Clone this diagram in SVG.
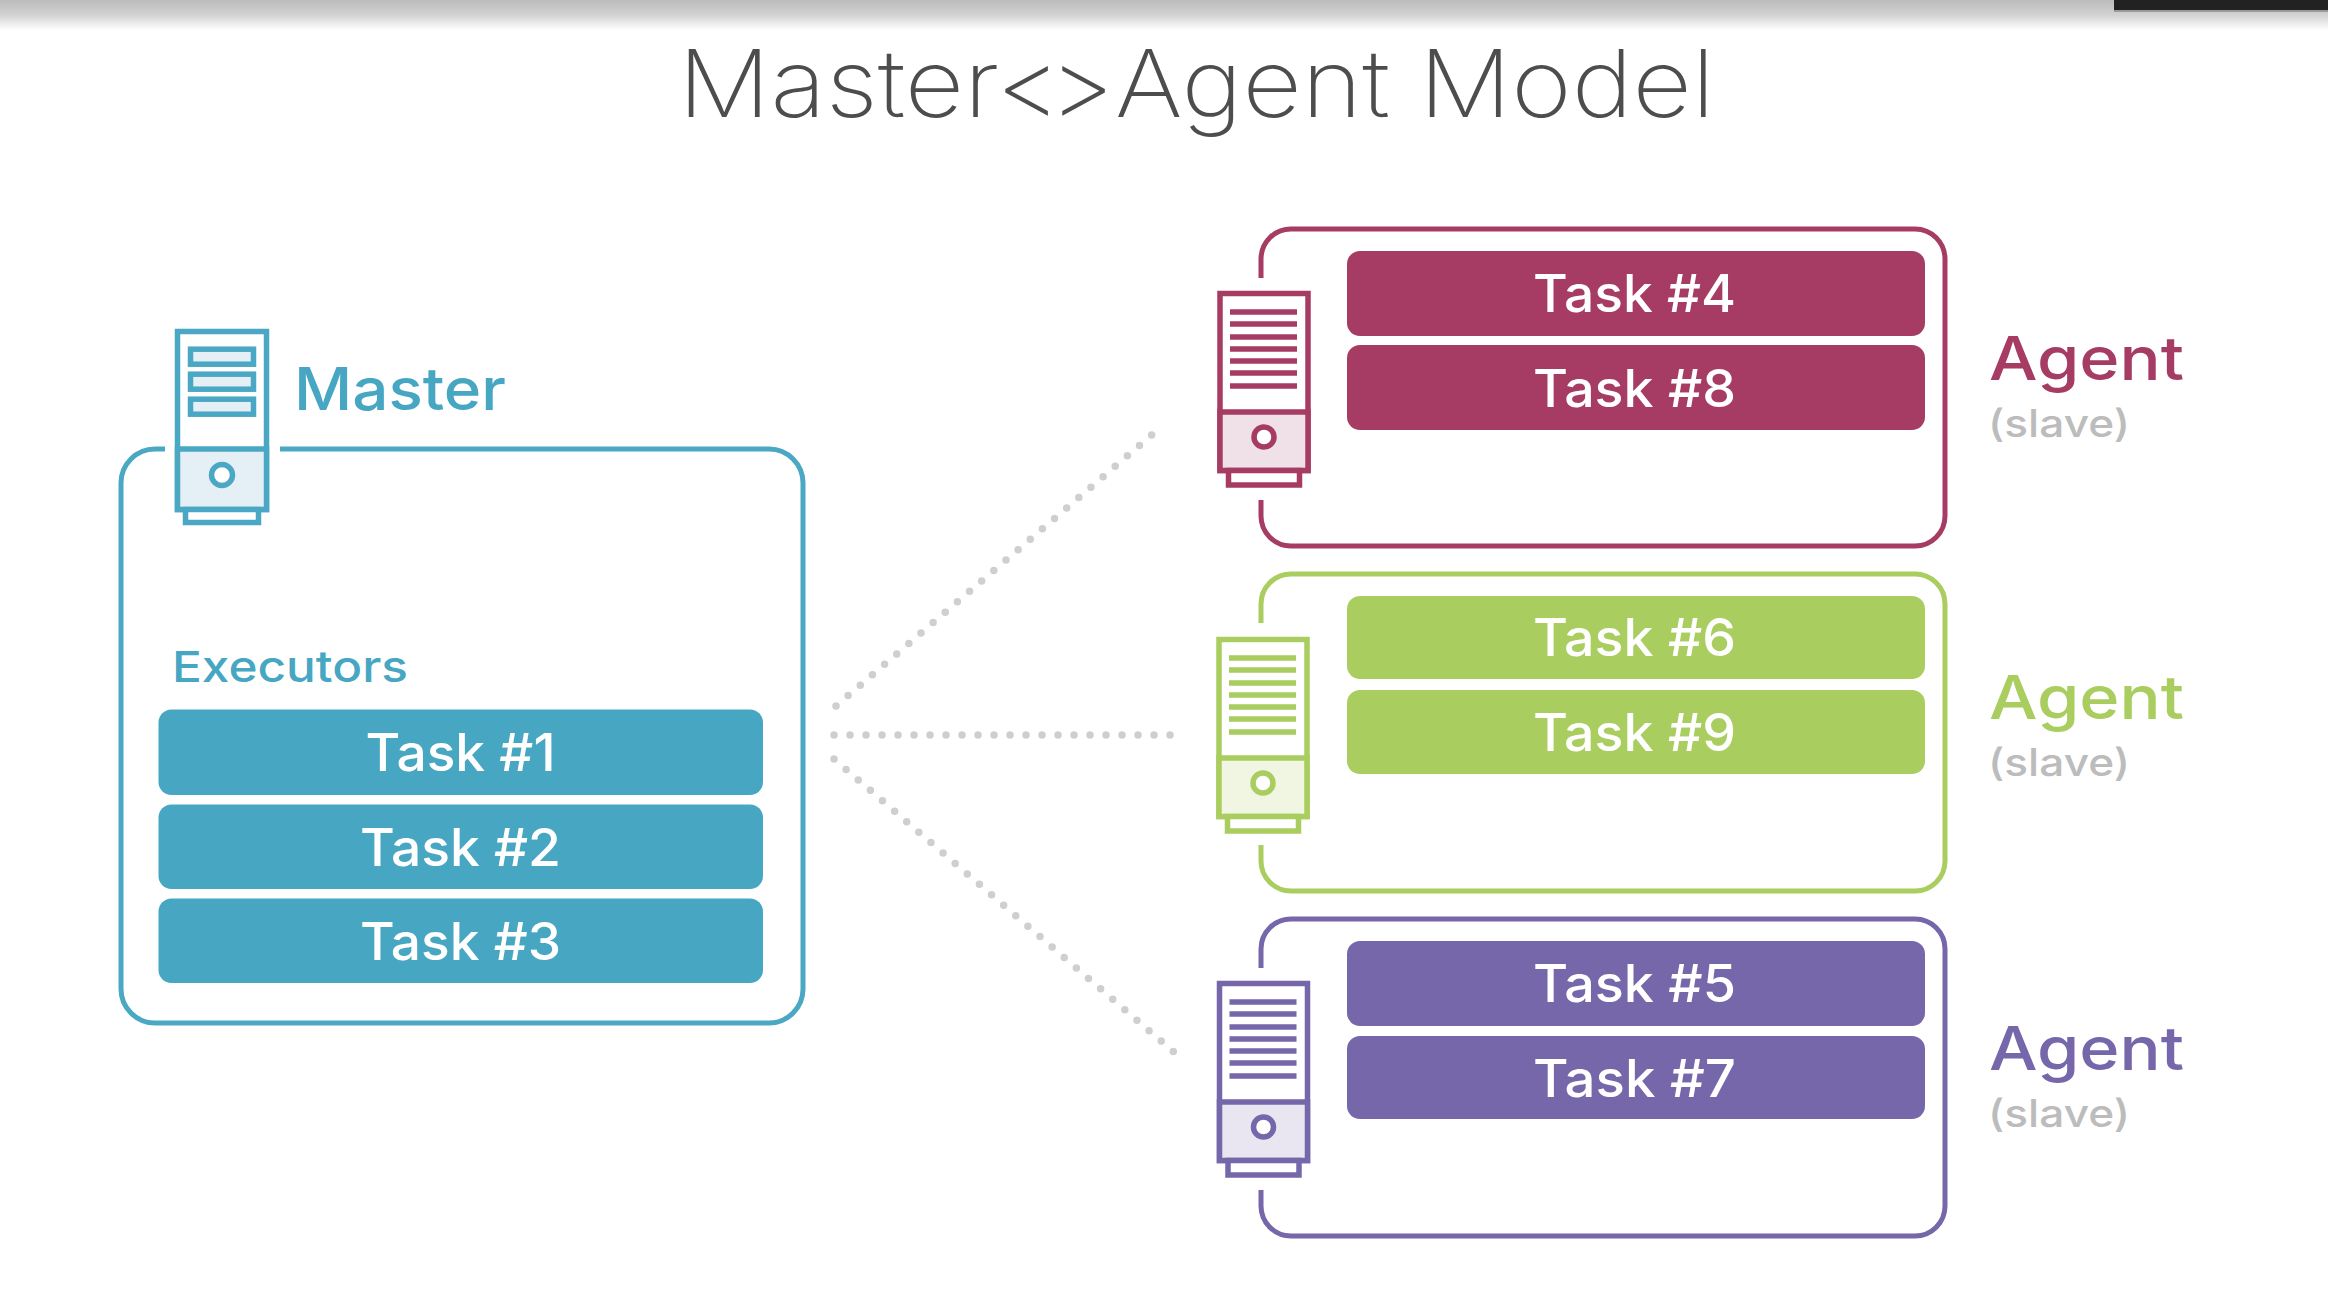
<svg xmlns="http://www.w3.org/2000/svg" xmlns:xlink="http://www.w3.org/1999/xlink" width="2328" height="1290" viewBox="0 0 2328 1290">
<defs>
<linearGradient id="topShade" x1="0" y1="0" x2="0" y2="1"><stop offset="0" stop-color="#bcbcbc"/><stop offset="0.5" stop-color="#d2d2d2"/><stop offset="1" stop-color="#ffffff"/></linearGradient>
<g id="agentServer" stroke-width="5.5">
<rect x="1220" y="293.5" width="88" height="177" fill="#fff" stroke="currentColor"/>
<rect x="1220" y="412" width="88" height="58.5" fill="var(--tint)" stroke="currentColor"/>
<rect x="1228.5" y="470.5" width="71" height="14.5" fill="#fff" stroke="currentColor"/>
<circle cx="1264" cy="437" r="10" fill="#fff" stroke="currentColor"/>
<path d="M1230 312H1297M1230 324H1297M1230 337H1297M1230 349H1297M1230 361H1297M1230 373H1297M1230 386H1297" fill="none" stroke="currentColor"/>
</g>
</defs>
<style>
text{font-family:"Inter","Open Sans","Liberation Sans",sans-serif}
.frame{fill:none;stroke-width:5}
.task{font-size:52px;font-weight:500;fill:#fff;text-anchor:middle}
.agent{font-size:60px;font-weight:550}
.slave{font-size:38px;font-weight:500;fill:#bcbcbc}
.dots{fill:none;stroke:#cfcfcf;stroke-width:7.5;stroke-linecap:round;stroke-dasharray:0 16}
.blue{color:#4aa8c4;fill:#47a7c3;--tint:#e4f0f6}
.red{color:#a63c63;fill:#a63c63;--tint:#f0e1e8}
.green{color:#a9cd5f;fill:#a9cd5f;--tint:#f0f6e1}
.purple{color:#7567a9;fill:#7567a9;--tint:#e9e6f2}
</style>
<rect width="2328" height="1290" fill="#fff"/>
<rect id="top-shade" width="2328" height="30" fill="url(#topShade)"/>
<rect id="top-corner" x="2114" y="0" width="214" height="10" fill="#222"/>
<rect id="top-corner-edge" x="2114" y="10" width="214" height="2" fill="#999"/>
<text id="title" x="678" y="117" font-size="94" fill="#4d4d4d" textLength="1037" lengthAdjust="spacingAndGlyphs" style="font-weight:200">Master&lt;<tspan dx="-12">&gt;</tspan>Agent Model</text>

<g id="connectors">
<path class="dots" d="M836 706L1154 433"/>
<path class="dots" d="M834 735H1172"/>
<path class="dots" d="M834 759L1175 1053"/>
</g>

<g id="master" class="blue">
<path class="frame" stroke="#4aa8c4" d="M165 449H155A34 34 0 0 0 121 483V989A34 34 0 0 0 155 1023H769A34 34 0 0 0 803 989V483A34 34 0 0 0 769 449H280"/>
<g stroke="#4aa8c4" stroke-width="5.5">
<rect x="177.5" y="331.5" width="89" height="178" fill="#fff"/>
<rect x="177.5" y="449" width="89" height="60.5" fill="#e4f0f6"/>
<rect x="185.5" y="509.5" width="73" height="13" fill="#fff"/>
<circle cx="222" cy="475" r="10.5" fill="#fff"/>
<rect x="190.5" y="349.2" width="63" height="15" fill="#e4f0f6"/>
<rect x="190.5" y="374.2" width="63" height="15" fill="#e4f0f6"/>
<rect x="190.5" y="399.2" width="63" height="15" fill="#e4f0f6"/>
</g>
<text x="294" y="410" font-size="59" font-weight="550" textLength="212" lengthAdjust="spacingAndGlyphs">Master</text>
<text x="172" y="682" font-size="43" font-weight="500" textLength="236" lengthAdjust="spacingAndGlyphs">Executors</text>
<rect x="158.5" y="709.5" width="604.5" height="85.5" rx="13"/>
<rect x="158.5" y="804.5" width="604.5" height="84.5" rx="13"/>
<rect x="158.5" y="898.5" width="604.5" height="84.5" rx="13"/>
<text class="task" x="460.5" y="771" textLength="190" lengthAdjust="spacingAndGlyphs">Task #1</text>
<text class="task" x="460.5" y="866" textLength="201" lengthAdjust="spacingAndGlyphs">Task #2</text>
<text class="task" x="460.5" y="960" textLength="201" lengthAdjust="spacingAndGlyphs">Task #3</text>
</g>

<g id="agent-1" class="red">
<path class="frame" stroke="#a63c63" d="M1261 278V259A30 30 0 0 1 1291 229H1915A30 30 0 0 1 1945 259V516A30 30 0 0 1 1915 546H1291A30 30 0 0 1 1261 516V500"/>
<use xlink:href="#agentServer" href="#agentServer"/>
<rect x="1347" y="251" width="578" height="85" rx="13"/>
<rect x="1347" y="345" width="578" height="85" rx="13"/>
<text class="task" x="1634.5" y="312" textLength="203" lengthAdjust="spacingAndGlyphs">Task #4</text>
<text class="task" x="1634.5" y="407" textLength="203" lengthAdjust="spacingAndGlyphs">Task #8</text>
<text class="agent" x="1989" y="380" textLength="195" lengthAdjust="spacingAndGlyphs">Agent</text>
<text class="slave" x="1988" y="437" textLength="142" lengthAdjust="spacingAndGlyphs">(slave)</text>
</g>

<g id="agent-2" class="green">
<path class="frame" stroke="#a9cd5f" d="M1261 623V604A30 30 0 0 1 1291 574H1915A30 30 0 0 1 1945 604V861A30 30 0 0 1 1915 891H1291A30 30 0 0 1 1261 861V845"/>
<use xlink:href="#agentServer" href="#agentServer" y="346" x="-1"/>
<rect x="1347" y="596" width="578" height="83" rx="13"/>
<rect x="1347" y="690" width="578" height="84" rx="13"/>
<text class="task" x="1634.5" y="656" textLength="203" lengthAdjust="spacingAndGlyphs">Task #6</text>
<text class="task" x="1634.5" y="751" textLength="203" lengthAdjust="spacingAndGlyphs">Task #9</text>
<text class="agent" x="1989" y="719" textLength="195" lengthAdjust="spacingAndGlyphs">Agent</text>
<text class="slave" x="1988" y="776" textLength="142" lengthAdjust="spacingAndGlyphs">(slave)</text>
</g>

<g id="agent-3" class="purple">
<path class="frame" stroke="#7567a9" d="M1261 968V949A30 30 0 0 1 1291 919H1915A30 30 0 0 1 1945 949V1206A30 30 0 0 1 1915 1236H1291A30 30 0 0 1 1261 1206V1190"/>
<use xlink:href="#agentServer" href="#agentServer" y="690" x="-0.5"/>
<rect x="1347" y="941" width="578" height="85" rx="13"/>
<rect x="1347" y="1036" width="578" height="83" rx="13"/>
<text class="task" x="1634.5" y="1002" textLength="203" lengthAdjust="spacingAndGlyphs">Task #5</text>
<text class="task" x="1634.5" y="1097" textLength="203" lengthAdjust="spacingAndGlyphs">Task #7</text>
<text class="agent" x="1989" y="1070" textLength="195" lengthAdjust="spacingAndGlyphs">Agent</text>
<text class="slave" x="1988" y="1127" textLength="142" lengthAdjust="spacingAndGlyphs">(slave)</text>
</g>
</svg>
